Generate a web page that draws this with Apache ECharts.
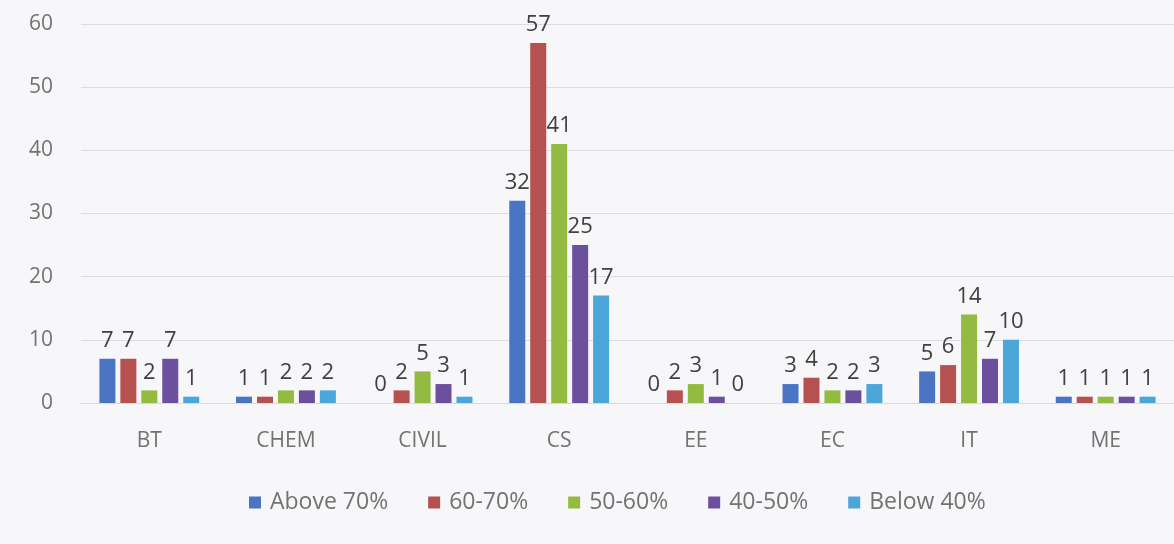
<!DOCTYPE html>
<html>
<head>
<meta charset="utf-8">
<script src="https://cdn.jsdelivr.net/npm/echarts@6/dist/echarts.min.js"></script>
<style>
html,body{margin:0;padding:0;background:#f7f6f9;}
#c{width:1174px;height:544px;}
</style>
</head>
<body>
<div id="c"></div>
<script>
const categories = ['BT','CHEM','CIVIL','CS','EE','EC','IT','ME'];
const seriesNames = ['Above 70%','60-70%','50-60%','40-50%','Below 40%'];
const above70 = [7,1,0,32,0,3,5,1];
const s60to70 = [7,1,2,57,2,4,6,1];
const s50to60 = [2,2,5,41,3,2,14,1];
const s40to50 = [7,2,3,25,1,2,7,1];
const below40 = [1,2,1,17,0,3,10,1];
const yTicks = [0,10,20,30,40,50,60];

const colors = ['#4b74c4','#b5514f','#93bb42','#6c509e','#4ba7da'];
const values = [above70, s60to70, s50to60, s40to50, below40];
const FONT = 'Open Sans';

const chart = echarts.init(document.getElementById('c'), null, {renderer:'canvas'});
chart.setOption({
  backgroundColor: '#f7f6f9',
  animation: false,
  color: colors,
  grid: {left: 81, right: -5, top: 24, bottom: 141, containLabel: false},
  legend: {
    data: seriesNames,
    bottom: 25,
    left: 244,
    itemWidth: 12, itemHeight: 12, itemGap: 40,
    icon: 'rect',
    textStyle: {fontFamily: FONT, fontSize: 23, color: '#727272', padding:[0,0,0,4]}
  },
  xAxis: {
    type: 'category',
    data: categories,
    axisLine: {show: true, lineStyle: {color: '#d9d9de'}},
    axisTick: {show: false},
    axisLabel: {fontFamily: FONT, fontSize: 21, color: '#727272', margin: 28}
  },
  yAxis: {
    type: 'value',
    min: yTicks[0], max: yTicks[yTicks.length-1], interval: 10,
    axisLine: {show: false},
    axisTick: {show: false},
    axisLabel: {fontFamily: FONT, fontSize: 21, color: '#727272', margin: 28},
    splitLine: {lineStyle: {color: '#dcdce3', width: 1}}
  },
  series: seriesNames.map((n, i) => ({
    name: n,
    type: 'bar',
    data: values[i],
    barWidth: 16,
    barGap: '31%',
    label: {show: true, position: 'top', distance: 7, fontFamily: FONT, fontSize: 22, color: '#404040'}
  }))
});
</script>
</body>
</html>
